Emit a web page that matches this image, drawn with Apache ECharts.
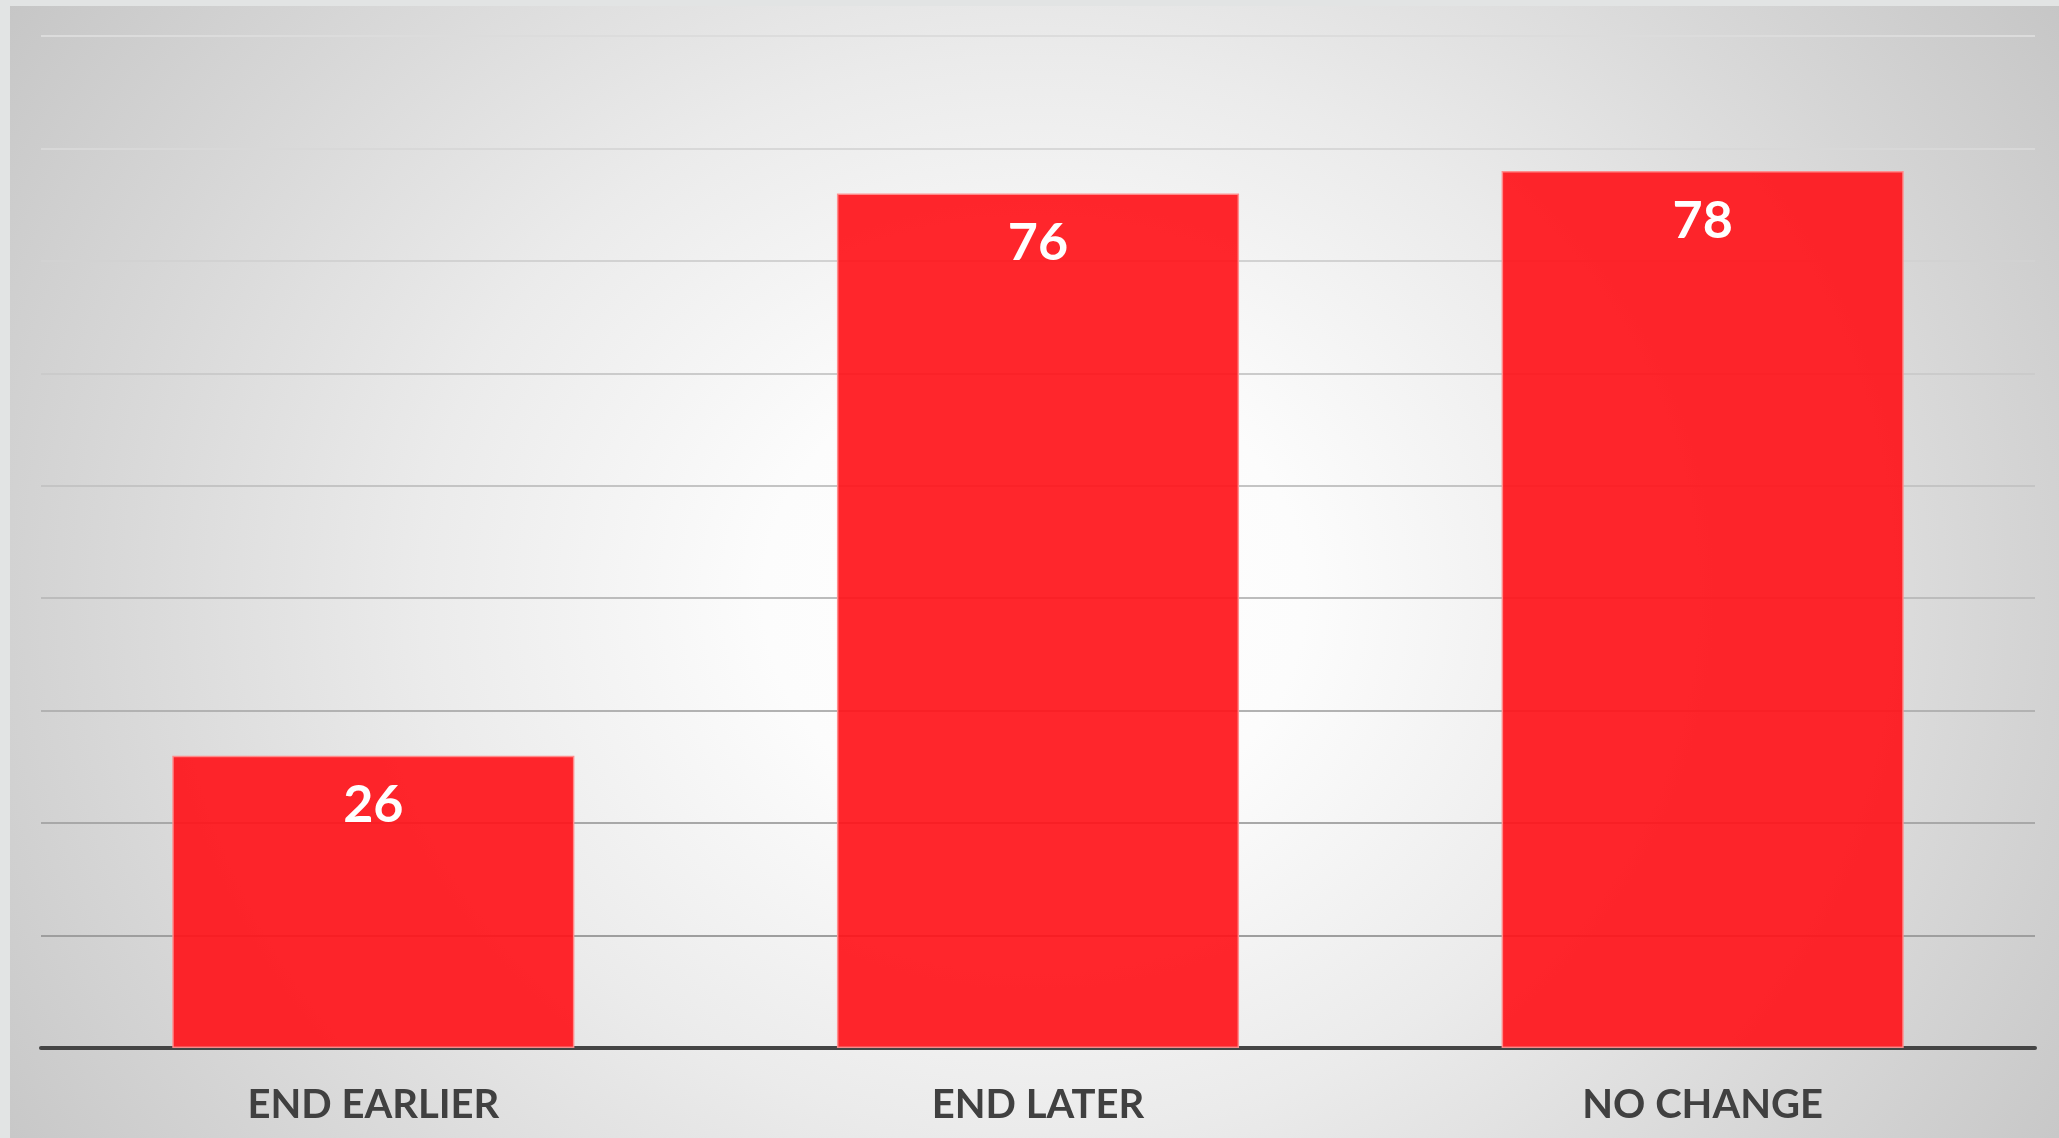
<!DOCTYPE html>
<html lang="en">
<head>
    <meta charset="UTF-8">
    <title>End time</title>
    <script src="https://cdn.jsdelivr.net/npm/echarts@6/dist/echarts.min.js"></script>
    <style>
        html, body { margin: 0; padding: 0; width: 2059px; height: 1138px; background: #e2e4e4; overflow: hidden; }
        #main {
            position: absolute; left: 10px; top: 6px; width: 2049px; height: 1132px;
            background: radial-gradient(ellipse 60% 95% at 50% 52%, #ffffff 0%, #fcfcfc 22%, #ebebeb 50%, #d6d6d6 78%, #c6c6c6 100%);
        }
    </style>
</head>
<body>
<div id="main"></div>
<script>
    var categories = ['END EARLIER', 'END LATER', 'NO CHANGE'];
    var values = [26, 76, 78];
    // 分隔线颜色，从下往上越来越浅
    var gridColors = ['#999', '#9e9e9e', '#a8a8a8', '#b2b2b2', '#bcbcbc', '#c4c4c4', '#cbcbcb', '#d2d2d2', '#d8d8d8', '#dcdcdc'];

    var chart = echarts.init(document.getElementById('main'));
    chart.setOption({
        backgroundColor: 'transparent',
        grid: {left: 31, right: 24, top: 30, bottom: 90, outerBoundsMode: 'none'},
        xAxis: {
            type: 'category',
            data: categories,
            axisLine: {lineStyle: {color: '#444', width: 4}},
            axisTick: {show: false},
            axisLabel: {
                margin: 37,
                color: '#404040',
                fontFamily: 'Lato',
                fontWeight: 'bold',
                fontSize: 40
            }
        },
        yAxis: {
            type: 'value',
            min: 0,
            max: 90,
            interval: 10,
            axisLabel: {show: false},
            axisLine: {show: false},
            axisTick: {show: false},
            splitLine: {lineStyle: {color: gridColors, width: 2}}
        },
        series: [{
            type: 'bar',
            data: values,
            barWidth: '60.5%',
            z: 1,
            itemStyle: {
                color: 'rgba(255,20,26,0.92)',
                borderColor: 'rgba(255,140,140,0.95)',
                borderWidth: 1.5
            },
            label: {
                show: true,
                position: 'insideTop',
                distance: 24,
                color: '#fff',
                fontFamily: 'Lato',
                fontWeight: 'bold',
                fontSize: 52
            }
        }]
    });
</script>
</body>
</html>
